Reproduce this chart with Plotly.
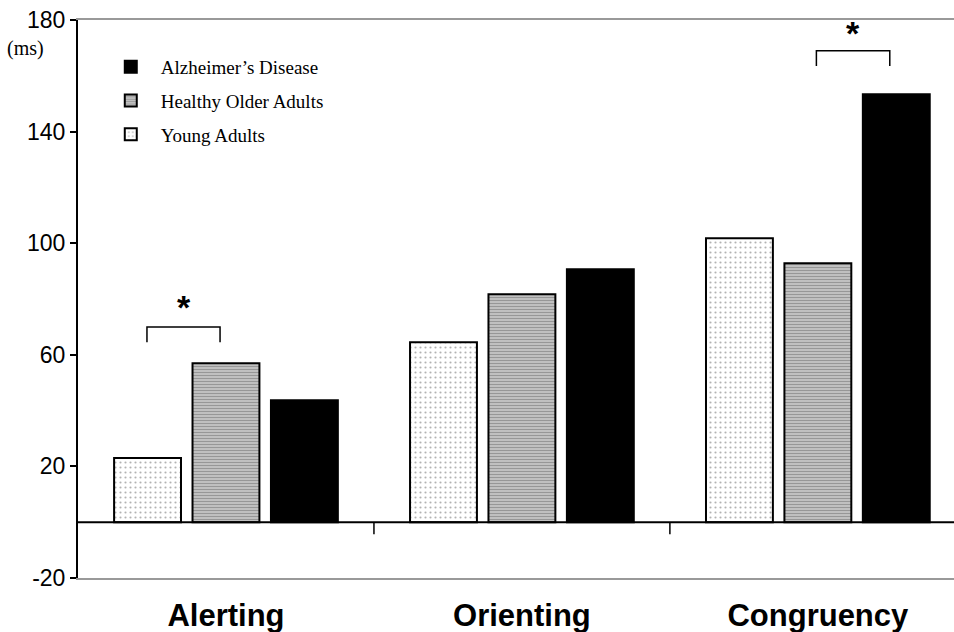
import plotly.graph_objects as go

categories = ["Alerting", "Orienting", "Congruency"]
young_adults = [23, 64.5, 101.8]
healthy_older = [57, 81.7, 92.8]
alzheimers = [43.7, 90.7, 153.4]
y_ticks = [-20, 20, 60, 100, 140, 180]

# significance brackets: (category index, left offset, right offset, height, star height)
brackets = [(0, -0.267, -0.02, 70, 77), (2, -0.005, 0.243, 169, 175.5)]

x = list(range(len(categories)))

fig = go.Figure()
fig.add_trace(go.Bar(
    x=x, y=young_adults, name="Young Adults", legendgroup="ya", legendrank=3,
    marker=dict(color="white", line=dict(color="black", width=2),
                pattern=dict(shape=".", fgcolor="#666", bgcolor="white", size=5, solidity=0.15)),
))
fig.add_trace(go.Bar(
    x=x, y=healthy_older, name="Healthy Older Adults", legendgroup="hoa", legendrank=2,
    marker=dict(color="#bbb", line=dict(color="black", width=2),
                pattern=dict(shape="-", fgcolor="#666", bgcolor="#c8c8c8", size=3, solidity=0.45)),
))
fig.add_trace(go.Bar(
    x=x, y=alzheimers, name="Alzheimer\u2019s Disease", legendgroup="ad", legendrank=1,
    marker=dict(color="black", line=dict(color="black", width=2)),
))

shapes = []
# zero line with category separator ticks
shapes.append(dict(type="line", xref="paper", yref="y", x0=0, x1=1, y0=0, y1=0,
                   line=dict(color="black", width=2)))
for b in [0.5, 1.5]:
    shapes.append(dict(type="line", xref="x", yref="y", x0=b, x1=b, y0=0, y1=-4.3,
                       line=dict(color="black", width=1.5)))
annotations = []
for ci, lo, hi, h, sy in brackets:
    x0, x1 = ci + lo, ci + hi
    shapes.append(dict(type="path", xref="x", yref="y",
                       path=f"M {x0},{h-5.5} L {x0},{h} L {x1},{h} L {x1},{h-5.5}",
                       line=dict(color="black", width=1.5)))
    annotations.append(dict(x=(x0 + x1) / 2, y=sy, xref="x", yref="y", text="<b>*</b>",
                            showarrow=False, font=dict(size=34, color="black",
                                                       family="Liberation Sans, Arial")))
annotations.append(dict(x=-0.083, y=1 - (48 - 20) / 558, xref="paper", yref="paper",
                        xanchor="left", yanchor="middle",
                        text="(ms)", showarrow=False, font=dict(size=20, color="black",
                                                               family="Liberation Serif, Times New Roman")))

fig.update_layout(
    width=954, height=632,
    margin=dict(l=78, r=0, t=20, b=54),
    plot_bgcolor="white", paper_bgcolor="white",
    barmode="group", bargap=0.205, bargroupgap=0.147,
    shapes=shapes, annotations=annotations,
    legend=dict(x=0.026, y=0.95, xanchor="left", yanchor="top",
                traceorder="grouped", tracegroupgap=6, itemwidth=50,
                font=dict(size=19, color="black", family="Liberation Serif, Times New Roman"),
                bgcolor="rgba(0,0,0,0)"),
    xaxis=dict(range=[-0.5, 2.46], tickvals=x, ticktext=categories,
               showline=True, mirror=True, linecolor="#999", linewidth=1.5,
               ticks="outside", ticklen=9, tickcolor="white",
               tickfont=dict(size=31, color="black", family="Liberation Sans, Arial", weight="bold"),
               showgrid=False, zeroline=False, fixedrange=True),
    yaxis=dict(range=[-20, 180], tickvals=y_ticks, ticktext=[str(v) for v in y_ticks],
               showline=True, linecolor="black", linewidth=2,
               ticks="outside", ticklen=6, tickwidth=1.5, tickcolor="black",
               tickfont=dict(size=23, color="black", family="Liberation Sans, Arial"),
               showgrid=False, zeroline=False, fixedrange=True),
    showlegend=True,
)

fig.write_html("out.html")
